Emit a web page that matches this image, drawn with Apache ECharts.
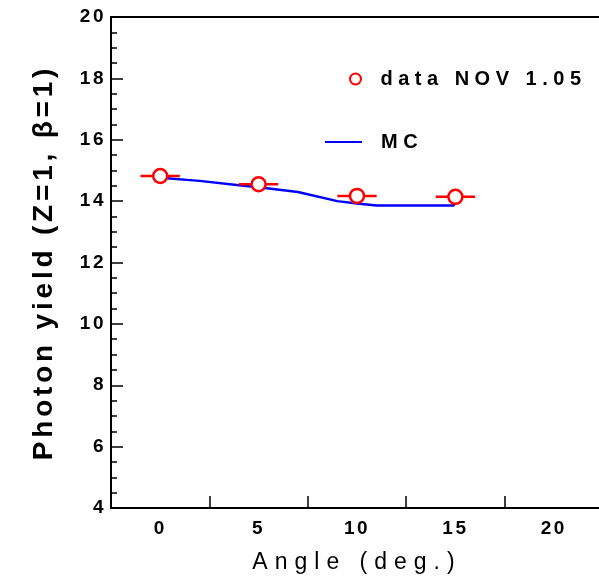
<!DOCTYPE html>
<html>
<head>
<meta charset="utf-8">
<script src="https://cdn.jsdelivr.net/npm/echarts@6/dist/echarts.min.js"></script>
<style>
html,body{margin:0;padding:0;background:#fff;}
#chart{width:599px;height:578px;}
</style>
</head>
<body>
<div id="chart"></div>
<script>
// ---- data ----
const dataX = [0, 5, 10, 15];
const dataY = [14.82, 14.55, 14.17, 14.14];
const dataXErr = [1, 1, 1, 1];

const mcX = [0, 2, 4, 5, 7, 9, 10, 11, 14.9, 15];
const mcY = [14.76, 14.66, 14.52, 14.45, 14.3, 14.0, 13.92, 13.86, 13.86, 13.95];

const xLabelValues = [0, 5, 10, 15, 20];
const xTickValues = [2.5, 7.5, 12.5, 17.5];

// letter-spaced text like the reference (all text stays real text)
(function(){
  const spacingBySize = {19: 2.5, 20: 5.5, 23: 7, 28: 3.8};
  const proto = CanvasRenderingContext2D.prototype;
  const orig = proto.fillText;
  proto.fillText = function(t, x, y, mw){
    const m = /(\d+(?:\.\d+)?)px/.exec(this.font || '');
    if ('letterSpacing' in this) {
      const s = m ? (spacingBySize[Math.round(parseFloat(m[1]))] || 0) : 0;
      this.letterSpacing = s + 'px';
    }
    return mw === undefined ? orig.call(this, t, x, y) : orig.call(this, t, x, y, mw);
  };
})();

const FONT = '"Liberation Sans", Arial, sans-serif';
const chart = echarts.init(document.getElementById('chart'), null, {renderer: 'canvas'});

const option = {
  animation: false,
  backgroundColor: '#fff',
  grid: {
    left: 111, top: 17, bottom: 70, right: -4,
    outerBoundsMode: 'none',
    containLabel: false,
    show: true, borderColor: '#000', borderWidth: 2, backgroundColor: 'transparent'
  },
  legend: [
    {
      data: ['data NOV 1.05'],
      left: 344, top: 64,
      orient: 'vertical',
      itemWidth: 26, itemHeight: 11,
      icon: 'circle',
      textStyle: {fontFamily: FONT, fontWeight: 'bold', fontSize: 20, color: '#000', padding: [0,0,0,7]}
    },
    {
      data: [{name: 'MC', icon: 'rect'}],
      left: 320, top: 127,
      orient: 'vertical',
      itemWidth: 37, itemHeight: 2,
      textStyle: {fontFamily: FONT, fontWeight: 'bold', fontSize: 20, color: '#000', padding: [0,0,0,14]}
    }
  ],
  xAxis: {
    type: 'value',
    min: -2.5, max: 22.5,
    name: 'Angle (deg.)',
    nameLocation: 'middle',
    nameGap: 43,
    nameTextStyle: {fontFamily: FONT, fontSize: 23, color: '#000'},
    axisLine: {show: true, onZero: false, lineStyle: {color: '#000', width: 2}},
    axisTick: {show: true, inside: true, length: 12, customValues: xTickValues, lineStyle: {color: '#000', width: 1.5}},
    axisLabel: {customValues: xLabelValues, margin: 11, fontFamily: FONT, fontWeight: 'bold', fontSize: 19, color: '#000'},
    splitLine: {show: false}
  },
  yAxis: {
    type: 'value',
    min: 4, max: 20, interval: 2,
    name: 'Photon yield (Z=1, β=1)',
    nameLocation: 'middle',
    nameGap: 53,
    nameRotate: 90,
    nameTextStyle: {fontFamily: FONT, fontWeight: 'bold', fontSize: 28, color: '#000'},
    axisLine: {show: true, onZero: false, lineStyle: {color: '#000', width: 2}},
    axisTick: {show: true, inside: true, length: 12, lineStyle: {color: '#000', width: 1.5}},
    minorTick: {show: true, splitNumber: 4, length: 6, lineStyle: {color: '#000', width: 1.5}},
    axisLabel: {margin: 5, fontFamily: FONT, fontWeight: 'bold', fontSize: 19, color: '#000'},
    splitLine: {show: false},
    minorSplitLine: {show: false}
  },
  series: [
    {
      name: 'MC',
      type: 'line',
      data: mcX.map((x, i) => [x, mcY[i]]),
      symbol: 'none',
      color: '#0000ff',
      lineStyle: {color: '#0000ff', width: 2.5},
      z: 2
    },
    {
      name: 'errbar',
      type: 'custom',
      data: dataX.map((x, i) => [x, dataY[i], dataXErr[i]]),
      encode: {x: 0, y: 1},
      renderItem: function(params, api){
        const x = api.value(0), y = api.value(1), e = api.value(2);
        const p1 = api.coord([x - e, y]);
        const p2 = api.coord([x + e, y]);
        return {
          type: 'line',
          shape: {x1: p1[0], y1: p1[1], x2: p2[0], y2: p2[1]},
          style: {stroke: '#ff0000', lineWidth: 2.5}
        };
      },
      z: 3,
      silent: true
    },
    {
      name: 'data NOV 1.05',
      type: 'scatter',
      data: dataX.map((x, i) => [x, dataY[i]]),
      symbol: 'circle',
      symbolSize: 14,
      color: '#ff0000',
      itemStyle: {color: '#ffffff', borderColor: '#ff0000', borderWidth: 2.5, opacity: 1},
      z: 4
    }
  ]
};
chart.setOption(option);
</script>
</body>
</html>
